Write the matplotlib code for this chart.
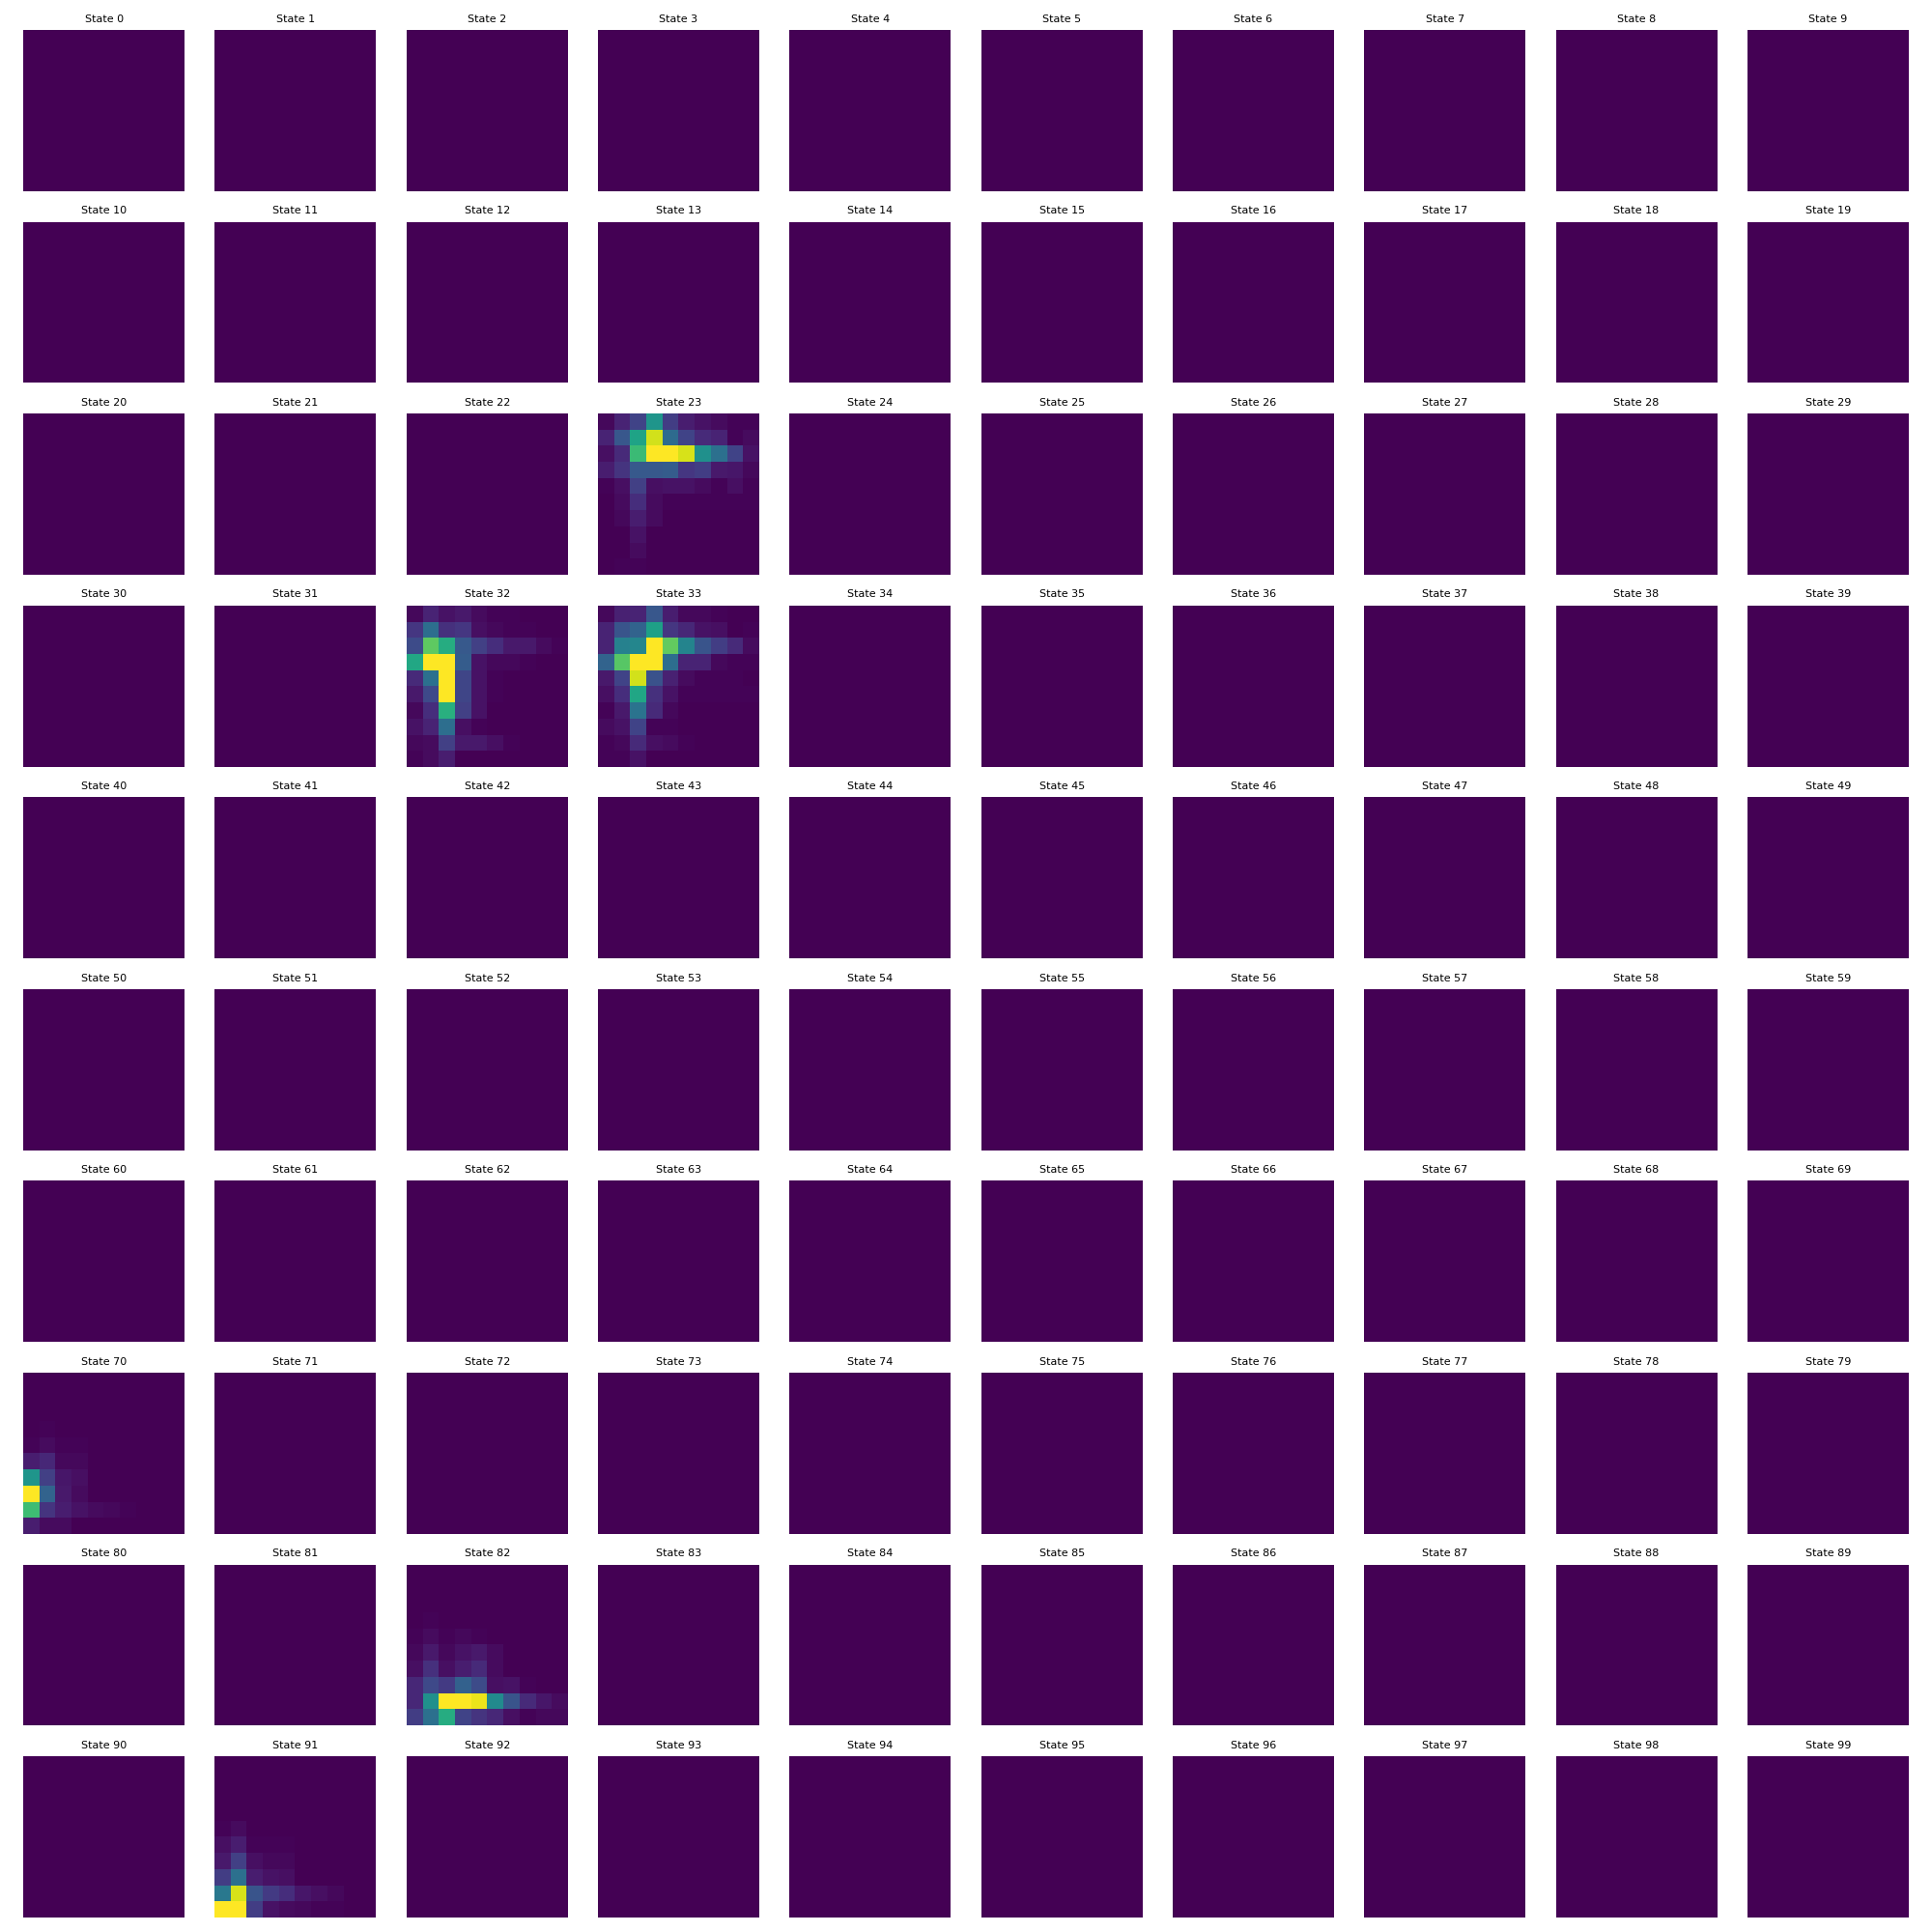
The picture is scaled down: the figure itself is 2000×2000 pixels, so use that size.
import numpy as np
import matplotlib
matplotlib.use("Agg")
import matplotlib.pyplot as plt

n_states = 100
grid = 10

# visit maps for the states that have any mass (per-panel scale)
state_23 = [
    [0.02, 0.10, 0.20, 0.52, 0.18, 0.08, 0.05, 0.03, 0.01, 0.01],
    [0.10, 0.27, 0.58, 0.93, 0.35, 0.20, 0.12, 0.10, 0.01, 0.03],
    [0.04, 0.12, 0.68, 1.00, 1.00, 0.94, 0.50, 0.37, 0.20, 0.05],
    [0.08, 0.15, 0.28, 0.28, 0.29, 0.16, 0.18, 0.07, 0.06, 0.02],
    [0.01, 0.04, 0.19, 0.04, 0.05, 0.05, 0.03, 0.01, 0.04, 0.01],
    [0.00, 0.03, 0.13, 0.03, 0.01, 0.01, 0.01, 0.01, 0.01, 0.01],
    [0.00, 0.02, 0.08, 0.03, 0.00, 0.00, 0.00, 0.00, 0.00, 0.00],
    [0.00, 0.00, 0.05, 0.00, 0.00, 0.00, 0.00, 0.00, 0.00, 0.00],
    [0.00, 0.00, 0.03, 0.00, 0.00, 0.00, 0.00, 0.00, 0.00, 0.00],
    [0.00, 0.01, 0.01, 0.00, 0.00, 0.00, 0.00, 0.00, 0.00, 0.00],
]
state_32 = [
    [0.02, 0.10, 0.05, 0.07, 0.03, 0.01, 0.01, 0.00, 0.00, 0.00],
    [0.16, 0.36, 0.14, 0.16, 0.04, 0.02, 0.01, 0.01, 0.00, 0.00],
    [0.23, 0.75, 0.62, 0.28, 0.19, 0.13, 0.07, 0.07, 0.03, 0.01],
    [0.60, 1.00, 1.00, 0.29, 0.05, 0.02, 0.02, 0.01, 0.00, 0.00],
    [0.12, 0.37, 1.00, 0.21, 0.05, 0.01, 0.00, 0.00, 0.00, 0.00],
    [0.07, 0.22, 1.00, 0.21, 0.05, 0.01, 0.00, 0.00, 0.00, 0.00],
    [0.02, 0.13, 0.63, 0.19, 0.05, 0.00, 0.00, 0.00, 0.00, 0.00],
    [0.05, 0.10, 0.36, 0.04, 0.01, 0.00, 0.00, 0.00, 0.00, 0.00],
    [0.02, 0.03, 0.19, 0.07, 0.07, 0.04, 0.01, 0.00, 0.00, 0.00],
    [0.01, 0.03, 0.08, 0.00, 0.00, 0.00, 0.00, 0.00, 0.00, 0.00],
]
state_33 = [
    [0.02, 0.09, 0.10, 0.27, 0.08, 0.02, 0.02, 0.01, 0.00, 0.00],
    [0.10, 0.26, 0.32, 0.57, 0.16, 0.11, 0.05, 0.04, 0.00, 0.01],
    [0.10, 0.44, 0.46, 1.00, 0.76, 0.45, 0.26, 0.18, 0.12, 0.03],
    [0.32, 0.74, 1.00, 1.00, 0.36, 0.10, 0.10, 0.02, 0.01, 0.01],
    [0.07, 0.20, 0.93, 0.25, 0.09, 0.03, 0.01, 0.01, 0.01, 0.00],
    [0.04, 0.13, 0.59, 0.14, 0.05, 0.01, 0.01, 0.01, 0.01, 0.01],
    [0.01, 0.07, 0.38, 0.12, 0.02, 0.00, 0.00, 0.00, 0.00, 0.00],
    [0.03, 0.05, 0.20, 0.01, 0.01, 0.00, 0.00, 0.00, 0.00, 0.00],
    [0.01, 0.02, 0.12, 0.04, 0.03, 0.01, 0.00, 0.00, 0.00, 0.00],
    [0.01, 0.01, 0.05, 0.00, 0.00, 0.00, 0.00, 0.00, 0.00, 0.00],
]
state_70 = [
    [0.00, 0.00, 0.00, 0.00, 0.00, 0.00, 0.00, 0.00, 0.00, 0.00],
    [0.00, 0.00, 0.00, 0.00, 0.00, 0.00, 0.00, 0.00, 0.00, 0.00],
    [0.00, 0.00, 0.00, 0.00, 0.00, 0.00, 0.00, 0.00, 0.00, 0.00],
    [0.00, 0.01, 0.00, 0.00, 0.00, 0.00, 0.00, 0.00, 0.00, 0.00],
    [0.01, 0.03, 0.01, 0.01, 0.00, 0.00, 0.00, 0.00, 0.00, 0.00],
    [0.08, 0.11, 0.02, 0.02, 0.00, 0.00, 0.00, 0.00, 0.00, 0.00],
    [0.52, 0.19, 0.06, 0.04, 0.00, 0.00, 0.00, 0.00, 0.00, 0.00],
    [1.00, 0.32, 0.07, 0.03, 0.00, 0.00, 0.00, 0.00, 0.00, 0.00],
    [0.69, 0.15, 0.08, 0.05, 0.03, 0.02, 0.01, 0.00, 0.00, 0.00],
    [0.08, 0.03, 0.03, 0.00, 0.00, 0.00, 0.00, 0.00, 0.00, 0.00],
]
state_82 = [
    [0.00, 0.00, 0.00, 0.00, 0.00, 0.00, 0.00, 0.00, 0.00, 0.00],
    [0.00, 0.00, 0.00, 0.00, 0.00, 0.00, 0.00, 0.00, 0.00, 0.00],
    [0.00, 0.00, 0.00, 0.00, 0.00, 0.00, 0.00, 0.00, 0.00, 0.00],
    [0.00, 0.01, 0.00, 0.00, 0.00, 0.00, 0.00, 0.00, 0.00, 0.00],
    [0.01, 0.03, 0.01, 0.02, 0.01, 0.00, 0.00, 0.00, 0.00, 0.00],
    [0.02, 0.07, 0.02, 0.05, 0.07, 0.03, 0.00, 0.00, 0.00, 0.00],
    [0.04, 0.14, 0.04, 0.08, 0.12, 0.03, 0.00, 0.00, 0.00, 0.00],
    [0.11, 0.22, 0.17, 0.31, 0.23, 0.04, 0.05, 0.01, 0.00, 0.00],
    [0.11, 0.50, 1.00, 1.00, 0.97, 0.48, 0.26, 0.12, 0.06, 0.03],
    [0.18, 0.37, 0.62, 0.20, 0.15, 0.11, 0.04, 0.01, 0.02, 0.02],
]
state_91 = [
    [0.00, 0.00, 0.00, 0.00, 0.00, 0.00, 0.00, 0.00, 0.00, 0.00],
    [0.00, 0.00, 0.00, 0.00, 0.00, 0.00, 0.00, 0.00, 0.00, 0.00],
    [0.00, 0.00, 0.00, 0.00, 0.00, 0.00, 0.00, 0.00, 0.00, 0.00],
    [0.00, 0.00, 0.00, 0.00, 0.00, 0.00, 0.00, 0.00, 0.00, 0.00],
    [0.01, 0.03, 0.00, 0.00, 0.00, 0.00, 0.00, 0.00, 0.00, 0.00],
    [0.04, 0.08, 0.01, 0.01, 0.01, 0.00, 0.00, 0.00, 0.00, 0.00],
    [0.07, 0.19, 0.04, 0.02, 0.02, 0.00, 0.00, 0.00, 0.00, 0.00],
    [0.18, 0.37, 0.08, 0.05, 0.04, 0.00, 0.00, 0.00, 0.00, 0.00],
    [0.40, 0.94, 0.26, 0.17, 0.13, 0.06, 0.04, 0.02, 0.00, 0.00],
    [1.00, 1.00, 0.18, 0.05, 0.03, 0.02, 0.01, 0.01, 0.00, 0.00],
]

active = {23: state_23, 32: state_32, 33: state_33,
          70: state_70, 82: state_82, 91: state_91}

fig, axes = plt.subplots(10, 10, figsize=(20, 20), dpi=100)
fig.subplots_adjust(left=0.012, right=0.988, bottom=0.0075, top=0.9845,
                    wspace=0.186, hspace=0.19)

for s in range(n_states):
    ax = axes[s // 10, s % 10]
    data = np.array(active.get(s, np.zeros((grid, grid))))
    ax.imshow(data, cmap="viridis")
    ax.set_title(f"State {s}", fontsize=8)
    ax.axis("off")

fig.savefig("out.png", dpi=100)
